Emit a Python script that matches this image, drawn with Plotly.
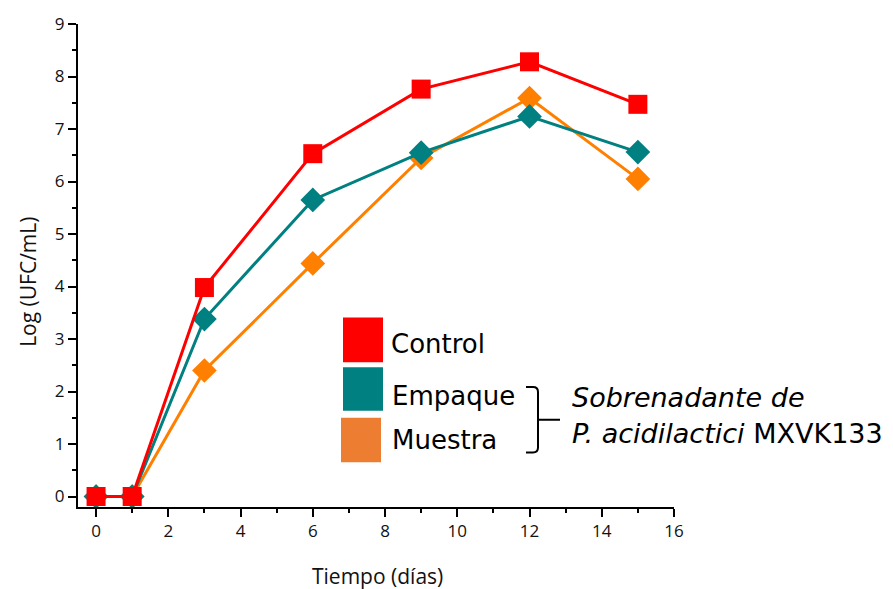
import plotly.graph_objects as go

# Growth curves: time in days vs log CFU/mL
dias = [0, 1, 3, 6, 9, 12, 15]
control = [0, 0, 3.98, 6.53, 7.76, 8.28, 7.47]
empaque = [0, 0, 3.38, 5.65, 6.55, 7.24, 6.56]
muestra = [0, 0, 2.40, 4.44, 6.45, 7.59, 6.05]

x_ticks = [0, 2, 4, 6, 8, 10, 12, 14, 16]
y_ticks = [0, 1, 2, 3, 4, 5, 6, 7, 8, 9]

RED = "#FF0000"
TEAL = "#008080"
ORANGE = "#FF8000"
ORANGE_KEY = "#ED7D31"

W, H = 893, 589
L, R, T, B = 78, 219, 20, 82
PW, PH = W - L - R, H - T - B


def px(x):
    return (x - L) / PW


def py(y):
    return (H - B - y) / PH


fig = go.Figure()

fig.add_trace(go.Scatter(
    x=dias, y=muestra, mode="lines+markers", name="Muestra",
    line=dict(color=ORANGE, width=3),
    marker=dict(symbol="diamond", size=19, color=ORANGE, line=dict(width=0)),
    cliponaxis=False, showlegend=False))
fig.add_trace(go.Scatter(
    x=dias, y=empaque, mode="lines+markers", name="Empaque",
    line=dict(color=TEAL, width=3),
    marker=dict(symbol="diamond", size=19, color=TEAL, line=dict(width=0)),
    cliponaxis=False, showlegend=False))
fig.add_trace(go.Scatter(
    x=dias, y=control, mode="lines+markers", name="Control",
    line=dict(color=RED, width=3),
    marker=dict(symbol="square", size=19, color=RED, line=dict(width=0)),
    cliponaxis=False, showlegend=False))

axis_common = dict(
    showline=True, linecolor="black", linewidth=2,
    ticks="outside", ticklen=8, tickwidth=2, tickcolor="black",
    showgrid=False, zeroline=False,
    tickfont=dict(family="Open Sans", size=17, color="#111111"),
)

fig.update_xaxes(range=[-0.5, 16], tickvals=x_ticks,
                 minor=dict(ticks="outside", ticklen=4, tickwidth=2,
                            tickcolor="black", dtick=1, tick0=0),
                 **axis_common)
fig.update_yaxes(range=[-0.2, 9], tickvals=y_ticks,
                 minor=dict(ticks="outside", ticklen=4, tickwidth=2,
                            tickcolor="black", dtick=0.5, tick0=0),
                 **axis_common)

shapes = []
# colour keys
keys = [
    (343, 383, 316, 361, RED),
    (343, 383, 366, 410, TEAL),
    (341, 381, 417, 462, ORANGE_KEY),
]
for x0, x1, y0, y1, c in keys:
    shapes.append(dict(type="rect", xref="paper", yref="paper",
                       x0=px(x0), x1=px(x1), y0=py(y1), y1=py(y0),
                       fillcolor=c, line=dict(width=0)))

# bracket joining Empaque and Muestra
def P(x, y):
    return f"{px(x):.5f},{py(y):.5f}"

bracket = (
    f"M {P(526, 386)} L {P(533, 386)} Q {P(538, 386)} {P(538, 391)} "
    f"L {P(538, 447)} Q {P(538, 452)} {P(533, 452)} L {P(526, 452)} "
    f"M {P(538, 419)} L {P(560, 419)}"
)
shapes.append(dict(type="path", xref="paper", yref="paper", path=bracket,
                   line=dict(color="black", width=2)))

annotations = []
legend_font = dict(family="DejaVu Sans", size=26, color="black")
note_font = dict(family="DejaVu Sans", size=27, color="black")
for label, x, y in [("Control", 389, 343), ("Empaque", 390, 395), ("Muestra", 390, 439)]:
    annotations.append(dict(text=label, xref="paper", yref="paper",
                            x=px(x), y=py(y), xanchor="left", yanchor="middle",
                            showarrow=False, font=legend_font))
annotations.append(dict(text="<i>Sobrenadante de</i>", xref="paper", yref="paper",
                        x=px(570), y=py(397), xanchor="left", yanchor="middle",
                        showarrow=False, font=note_font))
annotations.append(dict(text="<i>P. acidilactici</i> MXVK133", xref="paper", yref="paper",
                        x=px(570), y=py(433), xanchor="left", yanchor="middle",
                        showarrow=False, font=note_font))

# axis titles
title_font = dict(family="Open Sans", size=21, color="#111111")
annotations.append(dict(text="Tiempo (días)", xref="paper", yref="paper",
                        x=px(377), y=py(577), xanchor="center", yanchor="middle",
                        showarrow=False, font=title_font))
annotations.append(dict(text="Log (UFC/mL)", xref="paper", yref="paper",
                        x=px(28), y=py(280), xanchor="center", yanchor="middle",
                        textangle=-90, showarrow=False, font=title_font))

fig.update_layout(
    width=W, height=H, autosize=False,
    margin=dict(l=L, r=R, t=T, b=B),
    paper_bgcolor="white", plot_bgcolor="white",
    shapes=shapes, annotations=annotations,
)

fig.write_html("out.html")
